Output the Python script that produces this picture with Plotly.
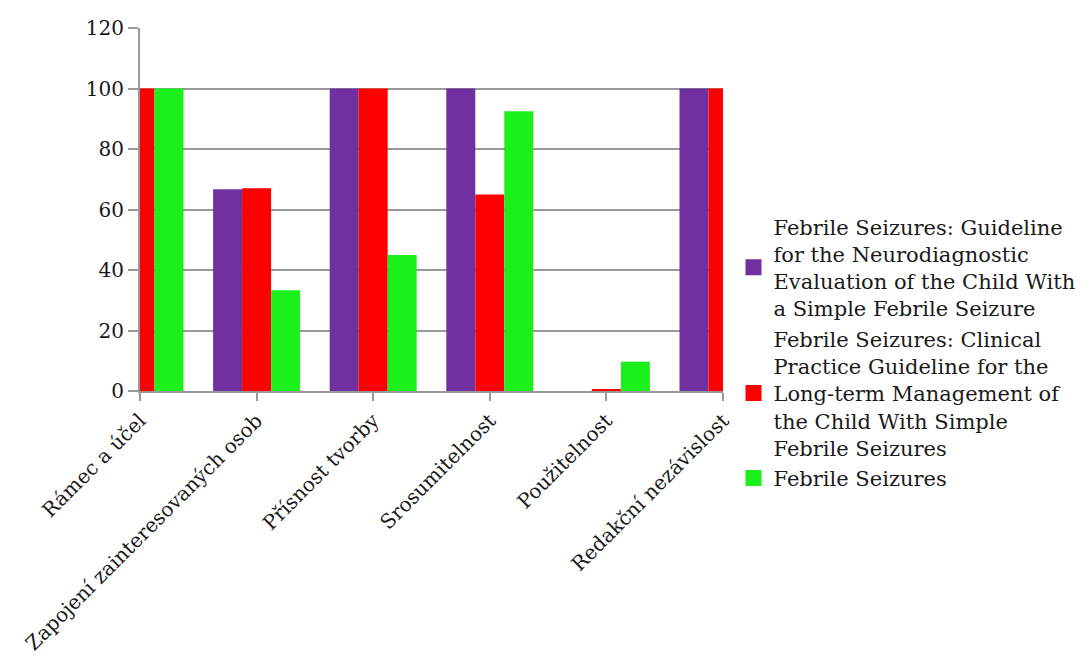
import plotly.graph_objects as go

categories = ["Rámec a účel", "Zapojení zainteresovaných osob", "Přísnost tvorby",
              "Srosumitelnost", "Použitelnost", "Redakční nezávislost"]
series_names = [
    "Febrile Seizures: Guideline<br>for the Neurodiagnostic<br>Evaluation of the Child With<br>a Simple Febrile Seizure",
    "Febrile Seizures: Clinical<br>Practice Guideline for the<br>Long-term Management of<br>the Child With Simple<br>Febrile Seizures",
    "Febrile Seizures",
]
purple_vals = [None, 66.7, 100, 100, 0, 100]
red_vals = [100, 67, 100, 65, 0.5, 100]
green_vals = [100, 33.3, 45, 92.5, 9.7, None]
colors = ["#7030a0", "#ff0000", "#1cf01c"]
y_ticks = [0, 20, 40, 60, 80, 100, 120]

FONT = "DejaVu Serif"

fig = go.Figure()
for name, vals, col in zip(series_names, [purple_vals, red_vals, green_vals], colors):
    fig.add_trace(go.Bar(x=categories, y=vals, name=name, showlegend=False,
                         legendgroup=name,
                         marker=dict(color=col, line=dict(width=0))))
for name, col in zip(series_names, colors):
    # legend swatch only (larger square like the reference)
    fig.add_trace(go.Scatter(x=[None], y=[None], mode="markers", name=name,
                             legendgroup=name, showlegend=True,
                             marker=dict(symbol="square", size=16, color=col,
                                         line=dict(width=0))))

fig.update_layout(
    width=1087, height=666,
    margin=dict(l=140, r=364, t=28, b=275, autoexpand=False),
    paper_bgcolor="white", plot_bgcolor="white",
    barmode="group", bargap=0.254, bargroupgap=0,
    font=dict(family=FONT, size=20, color="#1a1a1a"),
    showlegend=True,
    legend=dict(x=1.018, xanchor="left", y=0.107, yanchor="middle",
                font=dict(family=FONT, size=21, color="#1a1a1a"),
                bgcolor="rgba(0,0,0,0)", tracegroupgap=0, valign="middle"),
    xaxis=dict(type="category", range=[0, 5], tickangle=-45, automargin=False,
               showline=True, linecolor="#999999", linewidth=2,
               ticks="outside", ticklen=8, tickcolor="#999999", tickwidth=2,
               showgrid=False, tickfont=dict(family=FONT, size=20)),
    yaxis=dict(range=[0, 120], tickvals=y_ticks, automargin=False,
               showline=True, linecolor="#999999", linewidth=2,
               ticks="outside", ticklen=10, tickcolor="#999999", tickwidth=2,
               showgrid=True, gridcolor="#999999", gridwidth=2,
               zeroline=False, tickfont=dict(family=FONT, size=20)),
)

fig.write_html("out.html")
